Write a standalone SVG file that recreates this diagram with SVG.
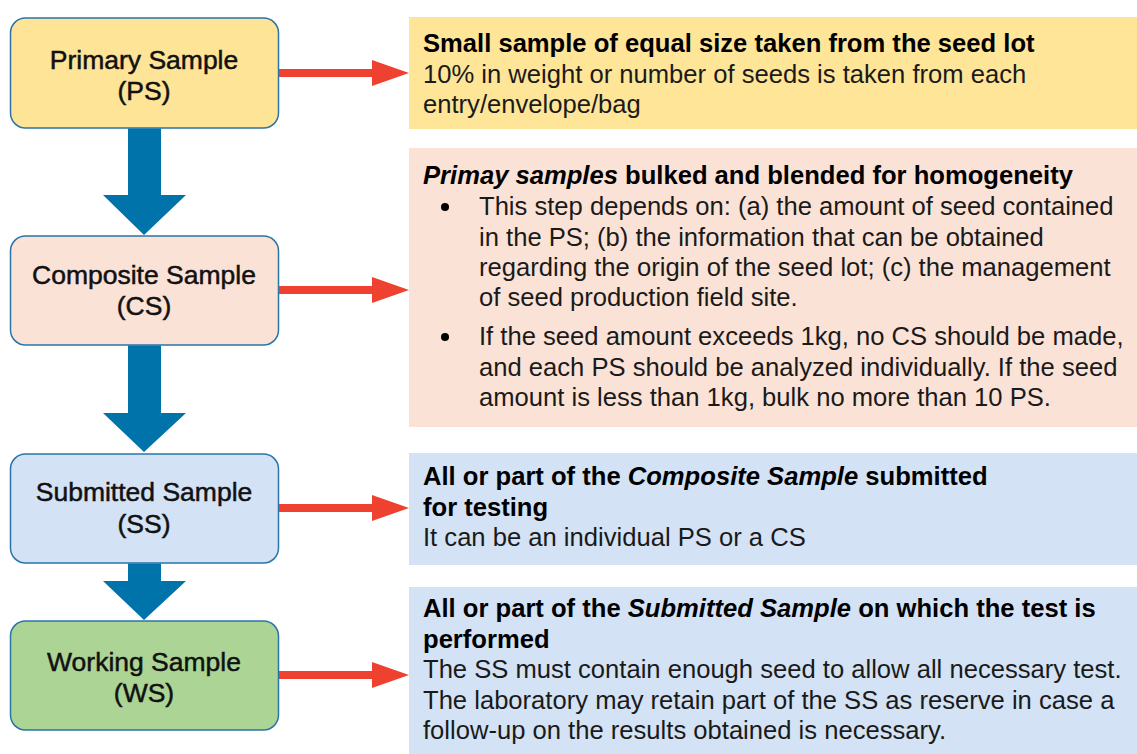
<svg xmlns="http://www.w3.org/2000/svg" width="1137" height="754" viewBox="0 0 1137 754">
<style>
.node{stroke:#2a74a8;stroke-width:1.5}
.nt{font-family:"Liberation Sans",Arial,sans-serif;font-size:26.5px;fill:#111;stroke:#111;stroke-width:0.5;text-anchor:middle}
.rt{font-family:"Liberation Sans",Arial,sans-serif;font-size:25.6px;fill:#1a1a1a}
.b{font-weight:bold;fill:#000}
.i{font-style:italic}
.down{fill:#0073aa}
.right{fill:#ee4130}
</style>
<rect width="1137" height="754" fill="#fff"/>
<g id="desc-ps">
<rect x="409" y="17" width="728" height="112" fill="#fee598"/>
<text class="rt" y="52"><tspan class="b" x="423">Small sample of equal size taken from the seed lot</tspan></text>
<text class="rt" x="423" y="83">10% in weight or number of seeds is taken from each</text>
<text class="rt" x="423" y="113">entry/envelope/bag</text>
</g>
<g id="desc-cs">
<rect x="409" y="148" width="728" height="279" fill="#fbe2d7"/>
<text class="rt b" x="423" y="184"><tspan class="i">Primay samples</tspan> bulked and blended for homogeneity</text>
<circle cx="445" cy="207" r="4" fill="#000"/>
<text class="rt" x="479" y="215">This step depends on: (a) the amount of seed contained</text>
<text class="rt" x="479" y="246">in the PS; (b) the information that can be obtained</text>
<text class="rt" x="479" y="276">regarding the origin of the seed lot; (c) the management</text>
<text class="rt" x="479" y="306">of seed production field site.</text>
<circle cx="445" cy="337" r="4" fill="#000"/>
<text class="rt" x="479" y="345">If the seed amount exceeds 1kg, no CS should be made,</text>
<text class="rt" x="479" y="376">and each PS should be analyzed individually. If the seed</text>
<text class="rt" x="479" y="406">amount is less than 1kg, bulk no more than 10 PS.</text>
</g>
<g id="desc-ss">
<rect x="409" y="453" width="728" height="112" fill="#d3e2f4"/>
<text class="rt b" x="423" y="485">All or part of the <tspan class="i">Composite Sample</tspan> submitted</text>
<text class="rt b" x="423" y="516">for testing</text>
<text class="rt" x="423" y="546">It can be an individual PS or a CS</text>
</g>
<g id="desc-ws">
<rect x="409" y="587" width="728" height="167" fill="#d3e2f4"/>
<text class="rt b" x="423" y="617">All or part of the <tspan class="i">Submitted Sample</tspan> on which the test is</text>
<text class="rt b" x="423" y="648">performed</text>
<text class="rt" x="423" y="678">The SS must contain enough seed to allow all necessary test.</text>
<text class="rt" x="423" y="709">The laboratory may retain part of the SS as reserve in case a</text>
<text class="rt" x="423" y="739">follow-up on the results obtained is necessary.</text>
</g>
<g id="ps">
<rect class="node" x="10.5" y="18" width="268" height="110" rx="15" fill="#fde497"/>
<text class="nt" x="144" y="69">Primary Sample</text>
<text class="nt" x="144" y="100">(PS)</text>
</g>
<g id="cs">
<rect class="node" x="10.5" y="236" width="268" height="109" rx="15" fill="#fbe2d7"/>
<text class="nt" x="144" y="284">Composite Sample</text>
<text class="nt" x="144" y="315">(CS)</text>
</g>
<g id="ss">
<rect class="node" x="10.5" y="454" width="268" height="109" rx="15" fill="#d3e2f4"/>
<text class="nt" x="144" y="501">Submitted Sample</text>
<text class="nt" x="144" y="533">(SS)</text>
</g>
<g id="ws">
<rect class="node" x="10.5" y="621" width="268" height="109" rx="15" fill="#acd595"/>
<text class="nt" x="144" y="671">Working Sample</text>
<text class="nt" x="144" y="702">(WS)</text>
</g>
<g id="connectors">
<polygon class="down" points="128,128.5 161,128.5 161,195 186,195 144,235 103,195 128,195"/>
<polygon class="down" points="128,345.5 161,345.5 161,413 186,413 144,452 103,413 128,413"/>
<polygon class="down" points="128,563.5 161,563.5 161,581 186,581 144,620 103,581 128,581"/>
<polygon class="right" points="279,69 372,69 372,60 409,73 372,86 372,77 279,77"/>
<polygon class="right" points="279,286 372,286 372,277 409,290 372,303 372,294 279,294"/>
<polygon class="right" points="279,504 372,504 372,495 409,508 372,521 372,512 279,512"/>
<polygon class="right" points="279,671 372,671 372,662 409,675 372,688 372,679 279,679"/>
</g>
</svg>
